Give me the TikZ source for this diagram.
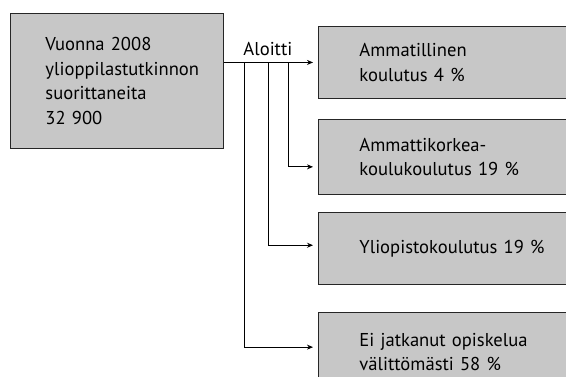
\documentclass[tikz,border=0pt]{standalone}
\usepackage{fontspec}
\setmainfont{PT Sans}
\usetikzlibrary{arrows.meta, positioning}
\hfuzz=20pt

\begin{document}
\begin{tikzpicture}[
    x=1pt, y=-1pt,
    font=\fontsize{18.6}{24.5}\selectfont,
    box/.style={rectangle, draw=black!85, line width=0.9pt, fill=black!22,
                anchor=north west, align=left, inner ysep=0pt},
    outcome/.style={box, text width=220pt, inner xsep=41pt},
    link/.style={-{Stealth[length=6pt,width=5pt]}, line width=0.8pt, shorten >=5pt}]
\useasboundingbox (0,0) rectangle (566,377);
\clip (0,0) rectangle (566,377);

\node[box, text width=143pt, inner xsep=35pt, minimum height=135pt] (start) at (10,13)
    {Vuonna 2008\\ylioppilastutkinnon\\suorittaneita\\32 900};

\node[outcome, minimum height=72pt] (voc) at (318,26) {Ammatillinen\\koulutus 4 \%};
\node[outcome, minimum height=75pt, below=20pt of voc.south west, anchor=north west] (amk)
    {Ammattikorkea-\\koulukoulutus 19 \%};
\node[outcome, minimum height=72pt, below=17pt of amk.south west, anchor=north west] (uni)
    {Yliopistokoulutus 19 \%};
\node[outcome, minimum height=80pt, below=27pt of uni.south west, anchor=north west] (none)
    {Ei jatkanut opiskelua\\välittömästi 58 \%};

% branch points on the main line
\coordinate (b2) at ([xshift=64pt]start.east |- voc.west);
\coordinate (b3) at ([xshift=44pt]start.east |- voc.west);
\coordinate (b4) at ([xshift=20pt]start.east |- voc.west);
\node[anchor=base, inner sep=0pt] (started) at ([yshift=7pt]b3) {Aloitti};

\draw[link] (start.east |- voc.west) -- (voc.west);
\draw[link] (b2) |- ([yshift=-10pt]amk.west);
\draw[link] (b3) |- ([yshift=3pt]uni.west);
\draw[link] (b4) |- ([yshift=5pt]none.west);
\end{tikzpicture}
\end{document}
